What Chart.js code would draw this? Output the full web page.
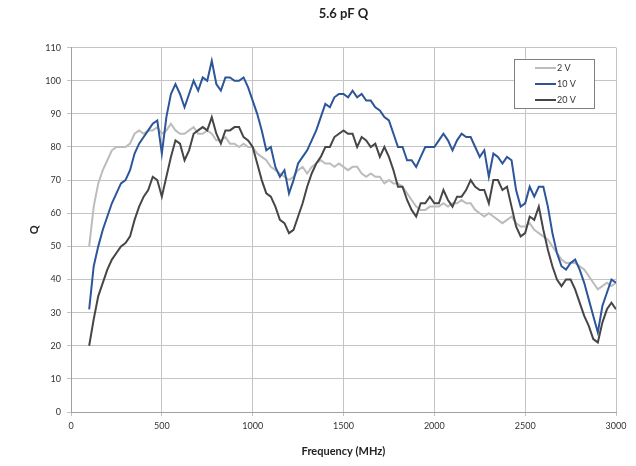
<!DOCTYPE html>
<html>
<head>
<meta charset="utf-8">
<script src="https://cdn.jsdelivr.net/npm/chart.js@4.4.0/dist/chart.umd.min.js"></script>
<style>
  body { margin: 0; background: #fff; }
  canvas { display: block; }
</style>
</head>
<body>
<canvas id="qChart" width="636" height="466"></canvas>
<script>
// frequency grid (MHz)
const freq = [100, 125, 150, 175, 200, 225, 250, 275, 300, 325, 350, 375, 400, 425, 450, 475,
  500, 525, 550, 575, 600, 625, 650, 675, 700, 725, 750, 775, 800, 825, 850, 875,
  900, 925, 950, 975, 1000, 1025, 1050, 1075, 1100, 1125, 1150, 1175, 1200, 1225, 1250, 1275,
  1300, 1325, 1350, 1375, 1400, 1425, 1450, 1475, 1500, 1525, 1550, 1575, 1600, 1625, 1650, 1675,
  1700, 1725, 1750, 1775, 1800, 1825, 1850, 1875, 1900, 1925, 1950, 1975, 2000, 2025, 2050, 2075,
  2100, 2125, 2150, 2175, 2200, 2225, 2250, 2275, 2300, 2325, 2350, 2375, 2400, 2425, 2450, 2475,
  2500, 2525, 2550, 2575, 2600, 2625, 2650, 2675, 2700, 2725, 2750, 2775, 2800, 2825, 2850, 2875,
  2900, 2925, 2950, 2975, 3000];

const q2V = [50, 62, 69, 73, 76, 79, 80, 80, 80, 81, 84, 85, 84, 85, 85, 86,
  84, 85, 87, 85, 84, 84, 85, 86, 84, 84, 85, 84, 82, 82, 83, 81,
  81, 80, 81, 80, 80, 78, 77, 76, 74, 73, 72, 71, 70, 71, 73, 74,
  72, 74, 75, 76, 75, 75, 74, 75, 74, 73, 74, 74, 72, 71, 72, 71,
  71, 69, 70, 69, 69, 68, 66, 64, 62, 61, 61, 62, 62, 62, 63, 62,
  63, 63, 64, 63, 63, 61, 60, 59, 60, 59, 58, 57, 58, 59, 57, 56,
  56, 57, 55, 54, 53, 52, 50, 48, 46, 45, 45, 45, 44, 43, 41, 39,
  37, 38, 39, 38, 39];

const q10V = [31, 44, 50, 55, 59, 63, 66, 69, 70, 73, 78, 81, 83, 85, 87, 88,
  78, 89, 96, 99, 96, 92, 96, 100, 97, 101, 100, 106, 99, 97, 101, 101,
  100, 100, 101, 98, 94, 90, 85, 79, 80, 74, 71, 73, 66, 70, 75, 77,
  79, 82, 85, 89, 93, 92, 95, 96, 96, 95, 97, 95, 96, 94, 94, 92,
  91, 89, 88, 84, 80, 80, 76, 76, 74, 77, 80, 80, 80, 82, 84, 82,
  79, 82, 84, 83, 83, 80, 77, 79, 71, 78, 77, 75, 77, 76, 67, 62,
  63, 68, 65, 68, 68, 62, 54, 48, 44, 43, 45, 46, 43, 39, 34, 29,
  24, 32, 36, 40, 39];

const q20V = [20, 28, 35, 39, 43, 46, 48, 50, 51, 53, 58, 62, 65, 67, 71, 70,
  65, 71, 77, 82, 81, 76, 79, 84, 85, 86, 85, 89, 84, 81, 85, 85,
  86, 86, 83, 82, 80, 75, 70, 66, 65, 62, 58, 57, 54, 55, 59, 63,
  68, 72, 75, 77, 80, 80, 83, 84, 85, 84, 84, 80, 83, 82, 80, 81,
  77, 80, 77, 73, 68, 68, 64, 61, 59, 63, 63, 65, 63, 63, 67, 64,
  62, 65, 65, 67, 70, 68, 67, 67, 63, 70, 70, 67, 68, 62, 56, 53,
  54, 59, 58, 62, 55, 49, 44, 40, 38, 40, 40, 37, 33, 29, 26, 22,
  21, 27, 31, 33, 31];

const seriesNames = ['2 V', '10 V', '20 V'];
const seriesColors = ['#bcbcbc', '#2c559a', '#464646'];
const xTicks = [0, 500, 1000, 1500, 2000, 2500, 3000];

const toPoints = arr => arr.map((v, i) => ({ x: freq[i], y: v }));

const fontFam = 'Lato, "Open Sans", sans-serif';

// legend box drawn inside the plot, top right
const boxLegend = {
  id: 'boxLegend',
  afterDraw(chart) {
    const ctx = chart.ctx;
    const x = 514, y = 59, w = 80, h = 49;
    ctx.save();
    ctx.fillStyle = '#fff';
    ctx.fillRect(x, y, w, h);
    ctx.strokeStyle = '#7f7f7f';
    ctx.lineWidth = 1;
    ctx.strokeRect(x + 0.5, y + 0.5, w, h);
    ctx.font = '9px ' + fontFam;
    ctx.textBaseline = 'middle';
    chart.data.datasets.forEach((ds, i) => {
      const ly = y + 9 + i * 16;
      ctx.strokeStyle = ds.borderColor;
      ctx.lineWidth = 2;
      ctx.beginPath();
      ctx.moveTo(535, ly);
      ctx.lineTo(556, ly);
      ctx.stroke();
      ctx.fillStyle = '#333';
      ctx.fillText(ds.label, 557, ly);
    });
    ctx.restore();
  }
};

const ctxQ = document.getElementById('qChart').getContext('2d');
const qChart = new Chart(ctxQ, {
  type: 'line',
  data: {
    datasets: [q2V, q10V, q20V].map((arr, i) => ({
      label: seriesNames[i],
      data: toPoints(arr),
      borderColor: seriesColors[i],
      backgroundColor: seriesColors[i],
      borderWidth: 2,
      pointRadius: 0,
      tension: 0,
      order: 3 - i
    }))
  },
  options: {
    responsive: false,
    animation: false,
    layout: { padding: { left: 0, right: 20, top: 0, bottom: 0 } },
    plugins: {
      legend: { display: false },
      tooltip: { enabled: false },
      title: {
        display: true,
        text: '5.6 pF Q',
        fullSize: false,
        color: '#222',
        font: { family: fontFam, size: 13, weight: 'bold' },
        padding: { top: 6, bottom: 26 }
      }
    },
    scales: {
      x: {
        type: 'linear',
        min: 0,
        max: 3000,
        afterBuildTicks: s => { s.ticks = xTicks.map(v => ({ value: v })); },
        afterFit: s => { s.height = 54; },
        grid: { color: '#c4c4c4', tickLength: 4, drawTicks: true },
        border: { color: '#a0a0a0' },
        ticks: {
          color: '#333', padding: 5, maxRotation: 0,
          font: { family: fontFam, size: 9 },
          callback: v => String(v)
        },
        title: {
          display: true,
          text: 'Frequency (MHz)',
          color: '#222',
          font: { family: fontFam, size: 11, weight: 'bold' },
          padding: { top: 4, bottom: 8 }
        }
      },
      y: {
        min: 0,
        max: 110,
        ticks: { stepSize: 10, color: '#333', padding: 6, font: { family: fontFam, size: 9 } },
        afterFit: s => { s.width = 71; },
        grid: { color: '#c4c4c4', tickLength: 4, drawTicks: true },
        border: { color: '#a0a0a0' },
        title: {
          display: true,
          text: 'Q',
          color: '#222',
          font: { family: fontFam, size: 11, weight: 'bold' },
          padding: { top: 28, bottom: 0 }
        }
      }
    }
  },
  plugins: [boxLegend]
});
</script>
</body>
</html>
